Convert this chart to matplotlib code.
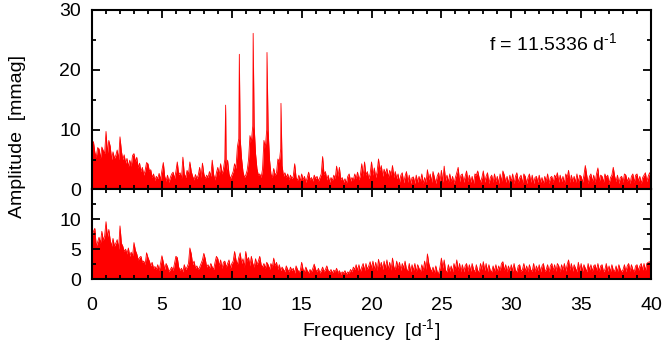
import numpy as np
import matplotlib
matplotlib.use("Agg")
import matplotlib.pyplot as plt
from matplotlib.ticker import MultipleLocator

plt.rcParams['font.family'] = ['Liberation Sans', 'DejaVu Sans']
plt.rcParams['mathtext.fontset'] = 'custom'
plt.rcParams['mathtext.rm'] = 'Liberation Sans'
plt.rcParams['mathtext.it'] = 'Liberation Sans'

# amplitude spectra, one row per 1 d^-1 (steps of 0.1 d^-1)
top_amp = [
    7.5, 8.0, 6.2, 5.4, 7.0, 6.8, 5.2, 7.1, 6.5, 6.0,
    9.7, 6.0, 8.2, 7.2, 5.0, 6.3, 5.2, 5.7, 6.6, 5.0,
    8.8, 6.4, 5.0, 5.8, 4.4, 5.2, 3.8, 4.9, 3.9, 5.7,
    6.0, 4.6, 5.4, 3.6, 4.4, 3.0, 3.7, 2.4, 3.2, 4.5,
    4.3, 3.1, 3.3, 2.0, 2.6, 1.5, 2.2, 1.8, 2.7, 1.6,
    3.2, 4.5, 2.2, 1.4, 2.4, 1.2, 2.0, 2.6, 2.9, 1.8,
    3.0, 4.6, 2.5, 2.8, 1.8, 5.4, 2.6, 2.0, 3.2, 2.5,
    4.6, 3.0, 2.2, 1.6, 2.5, 1.8, 2.4, 3.7, 2.0, 4.4,
    2.6, 1.8, 2.4, 2.0, 3.0, 2.2, 4.9, 2.5, 1.6, 2.8,
    3.7, 2.4, 4.3, 2.6, 3.4, 5.0, 2.8, 4.9, 2.6, 1.8,
    2.4, 3.0, 4.3, 3.5, 7.1, 8.5, 8.5, 5.2, 3.0, 2.0,
    2.4, 3.2, 5.0, 9.0, 8.0, 10.6, 10.6, 6.0, 3.5, 2.4,
    2.6, 2.0, 3.4, 8.2, 7.0, 10.0, 10.0, 5.0, 2.6, 2.0,
    3.5, 2.4, 2.8, 5.1, 4.6, 6.8, 4.0, 2.2, 2.8, 2.0,
    2.6, 1.6, 2.4, 1.8, 2.2, 4.3, 2.0, 1.5, 2.4, 1.4,
    2.6, 1.6, 2.2, 1.2, 2.0, 2.9, 1.6, 2.0, 1.4, 2.4,
    1.8, 2.2, 1.4, 2.0, 2.6, 5.5, 2.5, 3.0, 1.6, 2.4,
    1.2, 2.0, 1.5, 2.4, 1.8, 3.9, 2.2, 3.7, 1.6, 2.0,
    1.2, 1.8, 1.0, 2.2, 2.6, 1.4, 2.0, 1.6, 2.6, 1.8,
    2.9, 1.6, 2.4, 4.3, 2.2, 4.6, 2.4, 3.0, 1.8, 2.6,
    4.6, 2.4, 3.6, 2.0, 3.0, 5.1, 3.2, 4.0, 2.2, 3.4,
    2.6, 3.5, 2.0, 3.2, 2.4, 4.0, 2.0, 3.0, 1.8, 2.6,
    1.2, 2.4, 2.8, 1.1, 2.2, 3.0, 1.2, 2.4, 1.0, 2.0,
    2.1, 1.0, 2.4, 1.2, 2.2, 1.3, 2.6, 1.0, 2.0, 1.2,
    3.3, 1.6, 2.6, 1.2, 3.0, 2.0, 1.0, 2.2, 2.8, 1.3,
    3.2, 1.2, 3.9, 1.5, 2.4, 1.2, 2.6, 1.3, 2.2, 1.0,
    2.0, 2.8, 3.7, 1.3, 2.4, 2.6, 1.2, 2.2, 3.1, 1.3,
    2.4, 1.2, 2.2, 1.0, 2.6, 2.4, 3.1, 2.0, 1.2, 2.0,
    3.1, 1.2, 2.2, 2.8, 1.0, 2.0, 2.4, 1.2, 2.6, 1.3,
    2.2, 1.0, 2.6, 1.3, 3.1, 2.4, 1.2, 2.2, 1.0, 2.4,
    1.3, 2.6, 1.0, 2.2, 2.8, 1.2, 2.0, 2.4, 1.0, 2.6,
    2.2, 1.0, 2.0, 2.6, 1.2, 2.4, 1.0, 2.0, 2.2, 1.2,
    2.4, 1.2, 2.0, 1.0, 2.2, 1.3, 2.6, 1.0, 2.0, 2.2,
    1.2, 2.4, 2.0, 2.8, 1.2, 2.4, 1.3, 2.2, 1.0, 2.6,
    2.0, 3.2, 1.2, 2.4, 1.3, 2.2, 1.2, 2.6, 1.2, 2.4,
    2.2, 1.2, 2.4, 4.0, 2.4, 1.0, 2.2, 2.6, 1.3, 2.4,
    1.2, 2.6, 3.6, 1.3, 2.4, 2.2, 1.2, 2.6, 2.0, 2.4,
    1.0, 2.0, 2.4, 3.7, 2.2, 1.3, 2.4, 1.0, 2.0, 2.2,
    1.2, 2.6, 2.4, 1.3, 2.0, 1.0, 2.2, 2.6, 1.2, 2.4,
    2.6, 1.3, 2.2, 1.0, 2.0, 2.4, 2.8, 1.3, 2.2, 2.8,
    2.4,
]

bottom_amp = [
    7.0, 8.0, 8.5, 5.5, 6.2, 7.0, 6.0, 8.0, 6.5, 7.2,
    9.6, 7.0, 8.3, 6.5, 5.5, 6.8, 5.5, 6.0, 6.6, 5.0,
    8.9, 6.0, 5.5, 4.6, 5.0, 4.2, 5.2, 3.8, 4.5, 3.9,
    6.1, 4.8, 4.2, 3.2, 3.6, 3.8, 2.8, 3.0, 2.4, 4.4,
    3.6, 3.0, 2.2, 2.8, 1.8, 2.1, 1.6, 2.4, 1.4, 2.6,
    3.9, 2.8, 1.6, 2.6, 2.1, 1.2, 1.6, 2.0, 1.4, 2.6,
    3.8, 3.6, 2.0, 1.4, 1.8, 1.2, 2.4, 1.6, 2.0, 2.6,
    5.2, 4.2, 2.4, 3.0, 1.8, 2.2, 1.6, 2.0, 2.6, 3.2,
    4.3, 3.4, 2.0, 2.4, 1.8, 2.6, 2.0, 1.6, 2.8, 3.8,
    3.4, 2.2, 3.2, 1.8, 2.8, 3.0, 2.0, 2.6, 3.2, 1.8,
    2.6, 3.0, 4.6, 3.2, 2.4, 3.6, 4.4, 2.6, 3.4, 2.0,
    4.6, 3.0, 3.6, 2.2, 3.8, 2.6, 2.0, 3.4, 2.4, 3.0,
    3.8, 2.4, 2.0, 2.6, 1.8, 2.8, 2.4, 1.6, 2.6, 2.0,
    3.5, 2.2, 2.8, 1.6, 2.4, 1.4, 2.0, 1.6, 1.2, 2.2,
    1.6, 1.2, 2.0, 1.4, 1.8, 1.0, 2.2, 1.6, 1.2, 1.4,
    2.8, 1.6, 1.2, 2.0, 1.4, 1.0, 1.6, 1.2, 1.8, 2.5,
    1.6, 1.2, 1.8, 1.0, 1.4, 2.0, 1.2, 1.6, 2.2, 1.4,
    1.2, 1.6, 1.0, 1.5, 1.2, 1.8, 1.0, 1.4, 0.8, 1.2,
    1.0, 1.4, 0.8, 1.2, 1.0, 1.6, 1.2, 2.0, 1.6, 2.4,
    1.4, 2.4, 1.2, 2.0, 2.6, 1.4, 2.6, 1.6, 2.2, 2.9,
    1.8, 3.0, 1.6, 2.8, 1.4, 3.3, 2.0, 2.8, 1.6, 3.0,
    1.8, 3.2, 1.6, 2.8, 1.5, 3.5, 2.0, 1.6, 3.0, 1.8,
    2.8, 1.4, 2.6, 1.8, 3.0, 1.6, 1.4, 2.6, 1.2, 2.4,
    1.4, 2.6, 1.2, 2.4, 1.8, 1.2, 2.4, 1.4, 3.0, 1.6,
    4.2, 2.6, 1.8, 1.2, 2.0, 1.0, 2.2, 1.2, 0.9, 2.0,
    3.5, 1.8, 3.2, 1.4, 1.2, 2.4, 1.3, 2.2, 1.2, 2.6,
    1.6, 3.2, 1.4, 2.6, 1.2, 2.4, 1.2, 2.2, 2.6, 1.3,
    2.4, 1.3, 2.6, 1.6, 1.2, 2.4, 1.4, 1.2, 2.6, 1.6,
    2.9, 1.4, 2.6, 1.2, 2.4, 1.4, 1.2, 2.2, 1.3, 2.4,
    1.2, 2.2, 1.4, 2.6, 2.9, 1.4, 2.4, 1.2, 2.2, 1.3,
    2.4, 1.3, 2.6, 1.4, 1.2, 2.2, 2.4, 1.3, 1.6, 2.6,
    1.3, 2.2, 1.2, 2.4, 1.5, 1.3, 2.6, 1.2, 2.2, 1.4,
    2.4, 1.2, 2.2, 2.6, 1.3, 1.6, 2.4, 1.2, 2.2, 2.6,
    1.4, 2.4, 1.3, 2.6, 2.2, 1.2, 2.4, 1.5, 2.6, 1.3,
    2.4, 3.2, 1.5, 2.6, 1.3, 2.4, 1.8, 1.2, 2.8, 1.4,
    2.6, 1.3, 2.4, 1.8, 1.2, 2.6, 1.5, 2.4, 1.3, 2.2,
    2.4, 1.4, 2.6, 1.3, 2.2, 2.4, 1.2, 1.6, 2.6, 1.3,
    2.2, 1.2, 2.4, 1.5, 1.3, 2.2, 1.2, 2.4, 1.6, 1.2,
    1.6, 2.4, 1.2, 2.2, 2.6, 1.3, 2.4, 1.6, 1.2, 2.2,
    2.4, 1.4, 2.2, 2.6, 1.5, 2.6, 1.4, 2.6, 2.8, 2.9,
    2.6,
]

# the five strong peaks in the top panel
peak_freq = [9.56, 10.54, 11.53, 12.52, 13.52]
peak_amp = [14.1, 22.6, 26.1, 22.9, 14.4]

freq = np.arange(len(top_amp)) * 0.1

# put the peaks into the top spectrum
f_top = np.concatenate([freq, peak_freq])
a_top = np.concatenate([top_amp, peak_amp])
order = np.argsort(f_top)
f_top = f_top[order]
a_top = a_top[order]

fig = plt.figure(figsize=(6.67, 3.53), dpi=100)
ax1 = fig.add_axes([0.138, 0.4632, 0.838, 0.5085])
ax2 = fig.add_axes([0.138, 0.2096, 0.838, 0.2536])

for ax, f, a in [(ax1, f_top, a_top), (ax2, freq, np.array(bottom_amp))]:
    ax.fill_between(f, 0, a, color='red', lw=0)
    ax.plot(f, a, color='red', lw=0.6)
    ax.set_xlim(0, 40)
    ax.xaxis.set_major_locator(MultipleLocator(5))
    ax.xaxis.set_minor_locator(MultipleLocator(1))
    ax.tick_params(which='both', direction='in', top=True, right=True,
                   width=1.3, labelsize=14, colors='black')
    ax.tick_params(which='major', length=6)
    ax.tick_params(which='minor', length=3)
    ax.tick_params(axis='y', pad=8)
    for s in ax.spines.values():
        s.set_linewidth(1.5)

ax1.set_ylim(0, 30)
ax1.yaxis.set_major_locator(MultipleLocator(10))
ax1.yaxis.set_minor_locator(MultipleLocator(5))
ax1.tick_params(labelbottom=False)

ax2.set_ylim(0, 15)
ax2.set_yticks([0, 5, 10])
ax2.yaxis.set_minor_locator(MultipleLocator(2.5))
ax2.tick_params(axis='x', pad=13)

ax1.text(0.939, 0.816, r'f = 11.5336 d$^{\text{-}1}$', transform=ax1.transAxes,
         ha='right', va='center', fontsize=14)

fig.text(0.026, 0.612, 'Amplitude  [mmag]', rotation=90, ha='center',
         va='center', fontsize=14)
fig.text(0.557, 0.065, r'Frequency  [d$^{\text{-}1}$]', ha='center', va='center',
         fontsize=14)

fig.savefig('out.png', dpi=100)
